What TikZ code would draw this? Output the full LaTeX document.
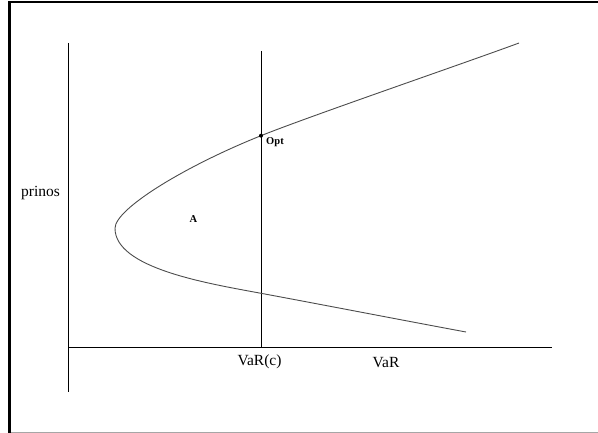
\documentclass[tikz,border=0pt]{standalone}
\usepackage{fontspec}
\setmainfont{Liberation Serif}
\begin{document}
\begin{tikzpicture}[x=1pt,y=-1pt,
  axis/.style={line width=1pt,black},
  frontier/.style={line width=0.9pt,black!70},
  framea/.style={line width=2.6pt,black},
  lbl/.style={font=\fontsize{15.5}{16}\selectfont,inner sep=0pt},
  small/.style={font=\fontsize{10.5}{11}\selectfont\bfseries,inner sep=0pt}]
\useasboundingbox (0,0) rectangle (598,433);
% frame
\draw[framea] (9.5,433) -- (9.5,2.2) -- (598,2.2);
\draw[line width=1pt,black!35] (11,432.2) -- (598,432.2);
% axes
\coordinate (ytop) at (68.5,43);
\coordinate (ybot) at (68.5,392);
\coordinate (xl) at (68.5,347.5);
\coordinate (xr) at (552,347.5);
\draw[axis] (ytop) -- (ybot);
\draw[axis] (xl) -- (xr);
\coordinate (vtop) at (261,51);
\coordinate (vbot) at (261,347.5);
\draw[axis] (vtop) -- (vbot);
% frontier
\coordinate (opt) at (261,135.7);
\coordinate (vert) at (115,228.3);
\coordinate (low) at (261,293.3);
\draw[frontier] (519,43) .. controls (465,63) and (311,115.7) .. (opt)
  .. controls (186,165.7) and (115,208.6) .. (vert)
  .. controls (115,268.2) and (207,283.3) .. (low)
  .. controls (315,303.3) and (412,322) .. (466,332);
\fill (opt) circle (2pt);
% labels
\node[lbl] (prinos) at (40.5,193) {prinos};
\node[lbl] (varc) at (259.5,362) {VaR(c)};
\node[lbl] (var) at (386,363) {VaR};
\node[small] (optl) at (275,142) {Opt};
\node[small] (a) at (193.5,219) {A};
\end{tikzpicture}
\end{document}
